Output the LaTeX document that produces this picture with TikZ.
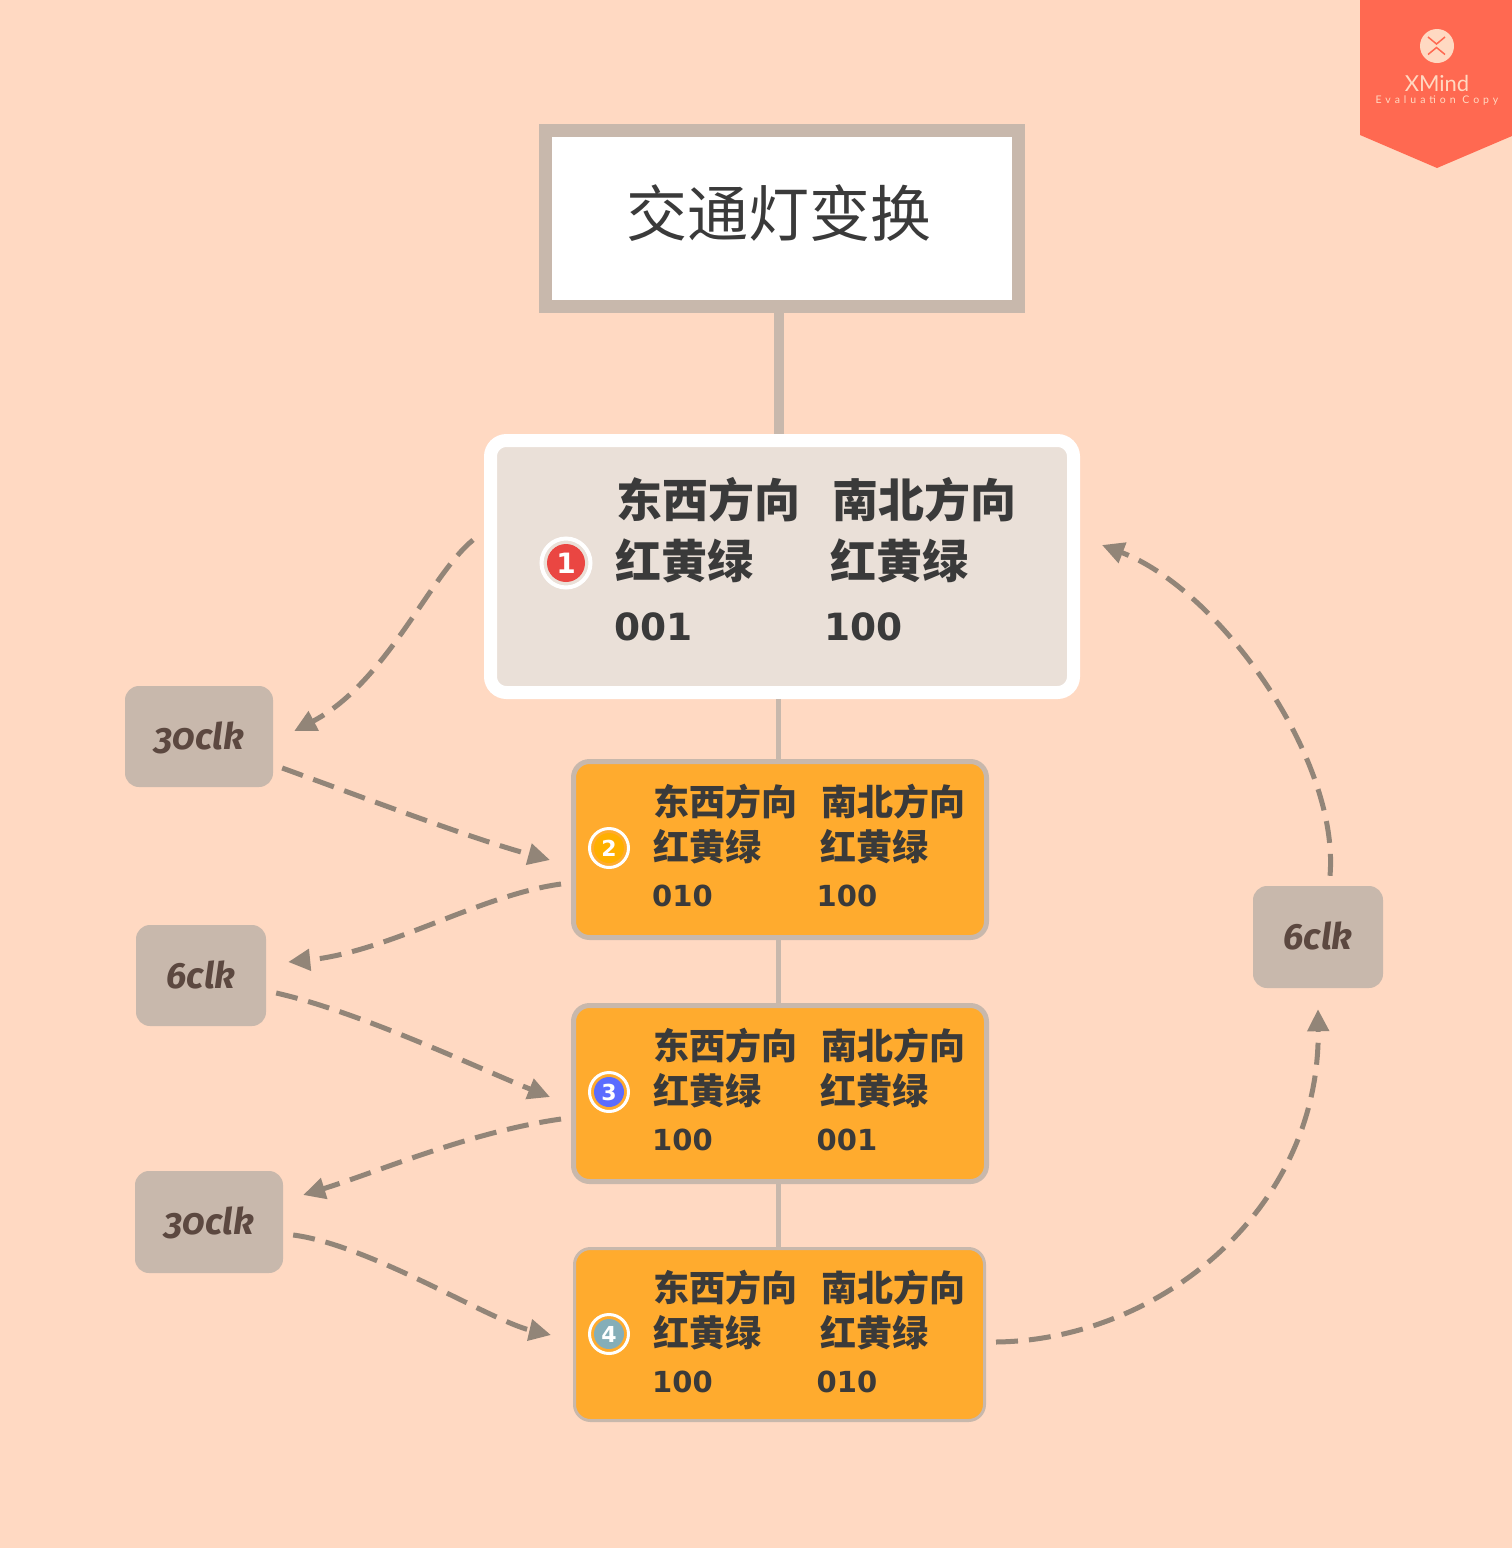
\documentclass[tikz,border=0pt]{standalone}
\usepackage{fontspec}
\newfontfamily\cjk{Noto Sans CJK SC}
\newfontfamily\digits{DejaVu Sans}
\newfontfamily\clkfont[Numbers=OldStyle]{Fira Sans}
\newfontfamily\markfont{Lato}
\newfontfamily\evalfont[LetterSpace=38]{Lato}
\usetikzlibrary{arrows.meta,positioning}
\definecolor{paper}{HTML}{FFD9C2}
\definecolor{stone}{HTML}{C8B8AC}
\definecolor{linen}{HTML}{EAE0D8}
\definecolor{amber}{HTML}{FFAB2E}
\definecolor{ink}{HTML}{3A3A3A}
\definecolor{umber}{HTML}{5C4840}
\definecolor{dashgrey}{HTML}{928578}
\definecolor{banner}{HTML}{FF6951}
\definecolor{redmark}{HTML}{EA4642}

\begin{document}
\begin{tikzpicture}[
    x=1pt,
    y=-1pt,
    every node/.style={align=center},
    titlebox/.style={
        draw=stone,
        line width=13pt,
        fill=white,
        minimum width=473pt,
        minimum height=176pt,
        inner sep=0pt
    },
    firstbox/.style={
        draw=white,
        line width=13pt,
        rounded corners=16pt,
        fill=linen,
        minimum width=583pt,
        minimum height=252pt,
        inner sep=0pt
    },
    phasebox/.style={
        draw=stone,
        line width=5pt,
        rounded corners=16pt,
        fill=amber,
        minimum width=413pt,
        minimum height=176pt,
        inner sep=0pt
    },
    clkbox/.style={
        fill=stone,
        rounded corners=14pt,
        inner sep=0pt,
        text=umber,
        text height=30pt,
        text depth=5pt,
        font=\clkfont\bfseries\itshape\fontsize{36.5}{36}\selectfont
    },
    bigcjk/.style={anchor=west, inner sep=0pt, text=ink, font=\cjk\bfseries\fontsize{46}{46}\selectfont},
    bigcode/.style={anchor=west, inner sep=0pt, text=ink, font=\digits\bfseries\fontsize{37.5}{37}\selectfont},
    smallcjk/.style={anchor=west, inner sep=0pt, text=ink, font=\cjk\bfseries\fontsize{36}{36}\selectfont},
    smallcode/.style={anchor=west, inner sep=0pt, text=ink, font=\digits\bfseries\fontsize{29}{29}\selectfont},
    badge/.style={
        circle,
        draw=white,
        line width=3pt,
        minimum size=39pt,
        inner sep=0pt
    },
    badgefill/.style={
        circle,
        minimum size=#1,
        inner sep=0pt,
        text=white,
        font=\digits\bfseries\fontsize{22}{22}\selectfont
    },
    trunk/.style={draw=stone, line width=5pt},
    flow/.style={
        -{Triangle[length=22pt,width=21pt]},
        draw=dashgrey,
        fill=none,
        line width=5pt,
        dash pattern=on 22pt off 11pt
    }
]
\useasboundingbox (0,0) rectangle (1512,1548);
\fill[paper] (0,0) rectangle (1512,1548);

% corner banner
\fill[banner] (1360,0) -- (1512,0) -- (1512,136) -- (1437,168) -- (1360,135) -- cycle;
\fill[paper] (1437,46) circle (17pt);
\draw[banner, line width=1.5pt] (1428,37) -- (1436.5,44) -- (1445,37) (1428,54.5) -- (1436.5,47.5) -- (1445,54.5);
\node[inner sep=0pt, text=paper, font=\markfont\fontsize{22}{22}\selectfont] (xmind) at (1437,83) {XMind};
\node[inner sep=0pt, text=paper, font=\evalfont\fontsize{10.5}{11}\selectfont] (evalcopy) at (1437,101) {Evaluation Copy};

% boxes
\node[titlebox] (title) at (782,218.5) {};
\node[firstbox] (phaseone) at (782,566.5) {};
\node[phasebox] (phasetwo) at (780,849.5) {};
\node[phasebox] (phasethree) at (780,1093.5) {};
\node[phasebox, line width=3pt, minimum width=410pt, minimum height=172pt] (phasefour) at (779.5,1334.5) {};

\node[inner sep=0pt, text=ink, font=\cjk\fontsize{61}{61}\selectfont] (titletext) at (779,213) {交通灯变换};

% trunk
\draw[trunk, line width=10pt] ([xshift=-3.5pt]title.south) -- ([xshift=-3.5pt]phaseone.north);
\draw[trunk] ([xshift=-3.5pt]phaseone.south) -- ([xshift=-1.5pt]phasetwo.north);
\draw[trunk] ([xshift=-1.5pt]phasetwo.south) -- ([xshift=-1.5pt]phasethree.north);
\draw[trunk] ([xshift=-1.5pt]phasethree.south) -- ([xshift=-1pt]phasefour.north);

% first phase
\node[bigcjk] (oneeast) at (616,500) {东西方向};
\node[bigcjk] (onenorth) at (832,500) {南北方向};
\node[bigcjk] (onelighta) at (615,561) {红黄绿};
\node[bigcjk] (onelightb) at (830,561) {红黄绿};
\node[bigcode] (onecodea) at (614,627) {001};
\node[bigcode] (onecodeb) at (824,627) {100};
\node[badge, minimum size=49pt, line width=4pt] (onering) at (566,563) {};
\node[badgefill=38pt, fill=redmark, font=\digits\bfseries\fontsize{28}{28}\selectfont] (onemark) at (566,563) {1};

% other phases
\foreach \name/\ypos/\codea/\codeb/\col/\num in {%
    two/802/010/100/FFB000/2,%
    three/1046/100/001/5B6CFF/3,%
    four/1288/100/010/85AEB8/4}{
    \definecolor{markcol}{HTML}{\col}
    \node[smallcjk] (\name east) at (653.5,\ypos) {东西方向};
    \node[smallcjk] (\name north) at (821.5,\ypos) {南北方向};
    \node[smallcjk] (\name lighta) at (653,\ypos+45) {红黄绿};
    \node[smallcjk] (\name lightb) at (820,\ypos+45) {红黄绿};
    \node[smallcode] (\name codea) at (652,\ypos+94) {\codea};
    \node[smallcode] (\name codeb) at (816.5,\ypos+94) {\codeb};
    \node[badge] (\name ring) at (609,\ypos+46) {};
    \node[badgefill=30pt, fill=markcol] (\name mark) at (609,\ypos+46) {\num};
}

% clock labels
\node[clkbox, minimum width=148pt, minimum height=101pt] (clkthirty) at (199,736.5) {30clk};
\node[clkbox, minimum width=130pt, minimum height=101pt] (clksix) at (201,975.5) {6clk};
\node[clkbox, minimum width=148pt, minimum height=102pt] (clkthirtyb) at (209,1222) {30clk};
\node[clkbox, minimum width=130pt, minimum height=102pt] (clksixb) at (1318,937) {6clk};

% transitions
\draw[flow] ([shift={(-11,-26.5)}]phaseone.west) .. controls +(-43,35) and +(92,-48) ..
    ([shift={(21,-5.5)}]clkthirty.east);
\draw[flow] ([shift={(9,31.5)}]clkthirty.east) .. controls +(88,32) and +(-80,-22) ..
    ([shift={(-21,10.5)}]phasetwo.west);
\draw[flow] ([shift={(-10,34.5)}]phasetwo.west) .. controls +(-81,11) and +(100,-10) ..
    ([shift={(22,-13.5)}]clksix.east);
\draw[flow] ([shift={(10,17.5)}]clksix.east) .. controls +(84,19) and +(-70,-28) ..
    ([shift={(-21,3.5)}]phasethree.west);
\draw[flow] ([shift={(-10,25.5)}]phasethree.west) .. controls +(-91,13) and +(77,-24) ..
    ([shift={(20,-27)}]clkthirtyb.east);
\draw[flow] ([shift={(10,13)}]clkthirtyb.east) .. controls +(77,10) and +(-60,-14) ..
    ([shift={(-22,0.5)}]phasefour.west);
\draw[flow] ([shift={(10,7.5)}]phasefour.east) .. controls +(164,-2) and +(2,200) ..
    ([yshift=-21pt]clksixb.south);
\draw[flow] ([shift={(12,-10)}]clksixb.north) .. controls +(10,-116) and +(118,45) ..
    ([shift={(22,-21.5)}]phaseone.east);
\end{tikzpicture}
\end{document}
